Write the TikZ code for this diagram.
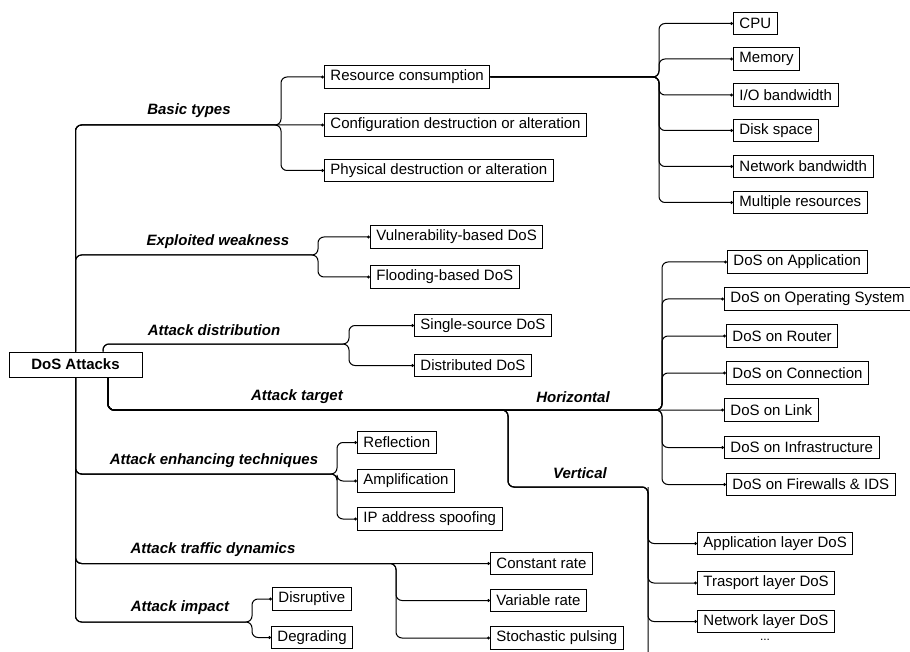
\documentclass[tikz,border=0pt]{standalone}
\usepackage{fontspec}
\setmainfont{Liberation Sans}
\usetikzlibrary{arrows.meta}
\begin{document}
\begin{tikzpicture}[x=1pt,y=-1pt,
  leaf/.style={draw=black, line width=0.9pt, fill=white, anchor=west, minimum height=22.5pt, inner xsep=6pt, inner ysep=0pt, font=\fontsize{15}{17}\selectfont},
  cat/.style={font=\fontsize{15}{17}\selectfont\bfseries\itshape, inner sep=0pt},
  conn/.style={draw=black, line width=1pt, rounded corners=6pt, -{Circle[open,length=3pt,width=3pt]}},
  trunk/.style={draw=black, line width=1pt, rounded corners=6pt}]
\useasboundingbox (0,0) rectangle (910,652);
\clip (0,0) rectangle (910,652);

% root
\node[draw=black, line width=0.9pt, fill=white, minimum width=133pt, minimum height=25pt, inner sep=0pt, font=\fontsize{15}{17}\selectfont\bfseries] (root) at (75.5,364.5) {DoS Attacks};

% category labels
\node[cat] (lbt) at (189,111) {Basic types};
\node[cat] (lew) at (218,242) {Exploited weakness};
\node[cat] (lad) at (214,330) {Attack distribution};
\node[cat] (lat) at (297,397) {Attack target};
\node[cat] (lhz) at (573,397) {Horizontal};
\node[cat] (lvt) at (580,473) {Vertical};
\node[cat] (len) at (214,461) {Attack enhancing techniques};
\node[cat] (ldy) at (213,550) {Attack traffic dynamics};
\node[cat] (lim) at (180,608) {Attack impact};

% leaves
\node[leaf] (rc)  at (324,77)  {Resource consumption};
\node[leaf] (cfg) at (324,125) {Configuration destruction or alteration};
\node[leaf] (phy) at (324,170.5) {Physical destruction or alteration};

\node[leaf] (cpu)  at (733,23.5)  {CPU};
\node[leaf] (mem)  at (733,59)    {Memory};
\node[leaf] (io)   at (733,95)    {I/O bandwidth};
\node[leaf] (disk) at (733,130.5) {Disk space};
\node[leaf] (net)  at (733,166.5) {Network bandwidth};
\node[leaf] (mult) at (733,202.5) {Multiple resources};

\node[leaf] (vul) at (370,237) {Vulnerability-based DoS};
\node[leaf] (flo) at (370,277) {Flooding-based DoS};

\node[leaf] (ss) at (414,325.5) {Single-source DoS};
\node[leaf] (dd) at (414,365.5) {Distributed DoS};

\node[leaf] (app) at (727,262)   {DoS on Application};
\node[leaf] (os)  at (724,299)   {DoS on Operating System};
\node[leaf] (rt)  at (726,336)   {DoS on Router};
\node[leaf] (con) at (726,373)   {DoS on Connection};
\node[leaf] (lnk) at (724,410)   {DoS on Link};
\node[leaf] (inf) at (724,447.5) {DoS on Infrastructure};
\node[leaf] (fw)  at (726,484.5) {DoS on Firewalls \& IDS};

\node[leaf] (al) at (697,543.5) {Application layer DoS};
\node[leaf] (tl) at (697,583)   {Trasport layer DoS};
\node[leaf] (nl) at (697,621.5) {Network layer DoS};
\node[font=\fontsize{12}{14}\selectfont, inner sep=0pt] (dots) at (765,640) {...};

\node[leaf] (ref) at (357,442.5) {Reflection};
\node[leaf] (amp) at (357,481)   {Amplification};
\node[leaf] (ip)  at (357,519)   {IP address spoofing};

\node[leaf] (cr) at (490,563.5) {Constant rate};
\node[leaf] (vr) at (490,600.5) {Variable rate};
\node[leaf] (sp) at (490,638)   {Stochastic pulsing};

\node[leaf] (dis) at (272,599)   {Disruptive};
\node[leaf] (deg) at (271,637.5) {Degrading};

% split points
\coordinate (bt) at (281,125);
\coordinate (rs) at (659,77);
\coordinate (ew) at (318,255);
\coordinate (ad) at (349,344);
\coordinate (at1) at (508,410);
\coordinate (hz) at (662,410);
\coordinate (vt) at (648,487);
\coordinate (vend) at (662,660);
\coordinate (en) at (337,474);
\coordinate (dy) at (396,563.5);
\coordinate (im) at (252,622);

% Basic types
\draw[conn] (root.north) |- (bt) |- (rc.west);
\draw[conn] (root.north) |- (cfg.west);
\draw[conn] (root.north) |- (bt) |- (phy.west);
% Resource consumption
\foreach \c in {cpu,mem,io,disk,net,mult}
  \draw[conn] (rc.east) -- (rs) |- (\c.west);
% Exploited weakness
\draw[conn] (root.north) |- (ew) |- (vul.west);
\draw[conn] (root.north) |- (ew) |- (flo.west);
% Attack distribution
\draw[conn] ([xshift=27.5pt]root.north) |- (ad) |- (ss.west);
\draw[conn] ([xshift=27.5pt]root.north) |- (ad) |- (dd.west);
% Attack target - horizontal
\foreach \c in {app,os,rt,con,inf,fw}
  \draw[conn] ([xshift=32.5pt]root.south) |- (hz) |- (\c.west);
\draw[conn] ([xshift=32.5pt]root.south) |- (lnk.west);
% Attack target - vertical
\foreach \c in {al,tl,nl}
  \draw[conn] ([xshift=32.5pt]root.south) |- (at1) |- (vt) |- (\c.west);
\draw[trunk] (vt) |- (vend);
% Enhancing
\foreach \c in {ref,amp,ip}
  \draw[conn] (root.south) |- (en) |- (\c.west);
% Dynamics
\draw[conn] (root.south) |- (cr.west);
\draw[conn] (root.south) |- (dy) |- (vr.west);
\draw[conn] (root.south) |- (dy) |- (sp.west);
% Impact
\draw[conn] (root.south) |- (im) |- (dis.west);
\draw[conn] (root.south) |- (im) |- (deg.west);
\end{tikzpicture}
\end{document}
